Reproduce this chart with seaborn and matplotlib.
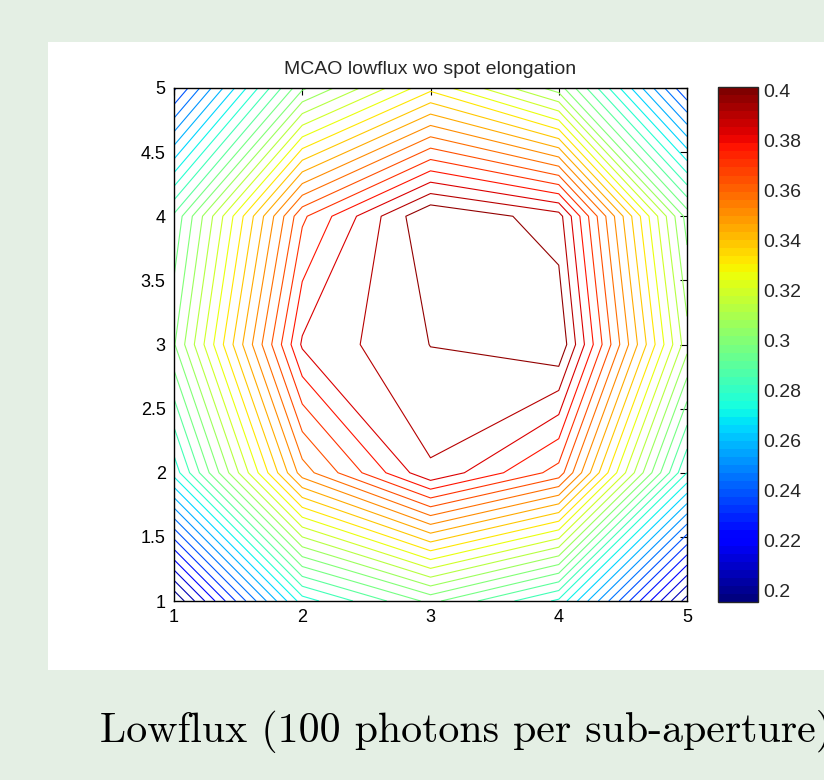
import numpy as np
import matplotlib
matplotlib.use("Agg")
import matplotlib.pyplot as plt
import seaborn as sns

# ---- data (5x5 grid, x = 1..5, y = 1..5) ----
x_vals = [1, 2, 3, 4, 5]
y_vals = [1, 2, 3, 4, 5]
row_y1 = [0.1956, 0.2735, 0.2971, 0.2753, 0.1987]
row_y2 = [0.2729, 0.3545, 0.3879, 0.3675, 0.2766]
row_y3 = [0.3009, 0.3835, 0.3951, 0.4006, 0.3102]
row_y4 = [0.2903, 0.3688, 0.4012, 0.3915, 0.2990]
row_y5 = [0.2317, 0.3003, 0.3308, 0.3046, 0.2330]
n_levels = 32
cbar_ticks = [0.2, 0.22, 0.24, 0.26, 0.28, 0.3, 0.32, 0.34, 0.36, 0.38, 0.4]
cbar_ticklabels = ["0.2", "0.22", "0.24", "0.26", "0.28", "0.3", "0.32",
                   "0.34", "0.36", "0.38", "0.4"]
xtick_labels = ["1", "2", "3", "4", "5"]
ytick_vals = [1, 1.5, 2, 2.5, 3, 3.5, 4, 4.5, 5]
ytick_labels = ["1", "1.5", "2", "2.5", "3", "3.5", "4", "4.5", "5"]
title_text = "MCAO lowflux wo spot elongation"
caption_text = "Lowflux (100 photons per sub-aperture)"

sns.set_style("white")
plt.rcParams["font.family"] = ["Liberation Sans", "DejaVu Sans"]

Z = np.array([row_y1, row_y2, row_y3, row_y4, row_y5])
X, Y = np.meshgrid(x_vals, y_vals)
zmin, zmax = Z.min(), Z.max()
levels = np.linspace(zmin, zmax, n_levels + 2)[1:-1]
cmap = plt.get_cmap("jet", 64)

W, H = 824, 780
fig = plt.figure(figsize=(W / 100, H / 100), dpi=100)
fig.patch.set_facecolor("#e4efe4")

# white panel behind the plot
bg = fig.add_axes([48 / W, 1 - 670 / H, 1 - 48 / W, (670 - 42) / H], zorder=-5)
bg.set_facecolor("white")
bg.set_xticks([])
bg.set_yticks([])
for sp in bg.spines.values():
    sp.set_visible(False)

ax = fig.add_axes([174 / W, 1 - 601 / H, (687 - 174) / W, (601 - 88) / H], zorder=1)
ax.set_facecolor("white")
ax.contour(X, Y, Z, levels=levels, cmap=cmap, vmin=zmin, vmax=zmax,
           linewidths=0.8)
ax.set_xlim(1, 5)
ax.set_ylim(1, 5)
ax.set_xticks(x_vals)
ax.set_xticklabels(xtick_labels)
ax.set_yticks(ytick_vals)
ax.set_yticklabels(ytick_labels)
ax.tick_params(direction="in", length=5, width=0.8, top=True, right=True,
               labelsize=13, colors="black", pad=6)
for sp in ax.spines.values():
    sp.set_visible(True)
    sp.set_color("black")
    sp.set_linewidth(1.0)
ax.set_title(title_text, fontsize=14, pad=10)

cax = fig.add_axes([718 / W, 1 - 602 / H, 40 / W, (602 - 87) / H], zorder=1)
sm = matplotlib.cm.ScalarMappable(norm=matplotlib.colors.Normalize(zmin, zmax), cmap=cmap)
cb = fig.colorbar(sm, cax=cax)
cb.set_ticks(cbar_ticks)
cb.set_ticklabels(cbar_ticklabels)
cb.outline.set_linewidth(1.0)
cax.tick_params(direction="in", length=5, width=0.8, left=True, right=True,
                labelsize=14, pad=4)

fig.text(100 / W, 1 - 742 / H, caption_text, family=["cmr10", "DejaVu Serif"],
         fontsize=30.2, ha="left", va="baseline", color="black")

fig.savefig("out.png", dpi=100, facecolor=fig.get_facecolor())
